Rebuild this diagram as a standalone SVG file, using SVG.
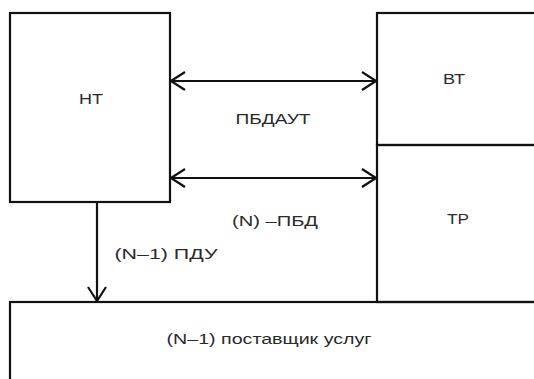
<svg xmlns="http://www.w3.org/2000/svg" width="534" height="379" viewBox="0 0 534 379">
<defs>
<style>
.box{fill:none;stroke:#111;stroke-width:2.2}
.ln{fill:none;stroke:#111;stroke-width:2.2}
.t{font-family:"Liberation Sans",Arial,sans-serif;font-size:14px;fill:#2a2a2a;text-anchor:middle}
</style>
<marker id="ah" viewBox="0 0 16 20" refX="15" refY="10" markerWidth="16" markerHeight="20" markerUnits="userSpaceOnUse" orient="auto-start-reverse">
<path d="M1,1 L15,10 L1,19" fill="none" stroke="#111" stroke-width="2.2"/>
</marker>
</defs>
<rect width="534" height="379" fill="#fff"/>
<g id="node-nt">
<rect class="box" x="10" y="13" width="160" height="189"/>
<text class="t" x="91" y="104" textLength="24" lengthAdjust="spacingAndGlyphs">НТ</text>
</g>
<g id="node-vt">
<rect class="box" x="377" y="13" width="170" height="132"/>
<text class="t" x="454" y="84" textLength="22" lengthAdjust="spacingAndGlyphs">ВТ</text>
</g>
<g id="node-tr">
<rect class="box" x="377" y="145" width="170" height="157"/>
<text class="t" x="458" y="224" textLength="22" lengthAdjust="spacingAndGlyphs">ТР</text>
</g>
<g id="node-provider">
<rect class="box" x="10" y="302" width="540" height="90"/>
<text class="t" x="269" y="344" textLength="205" lengthAdjust="spacingAndGlyphs">(N–1)  поставщик услуг</text>
</g>
<g id="connectors">
<line class="ln" x1="171" y1="81" x2="376" y2="81" marker-start="url(#ah)" marker-end="url(#ah)"/>
<line class="ln" x1="171" y1="178" x2="376" y2="178" marker-start="url(#ah)" marker-end="url(#ah)"/>
<line class="ln" x1="97" y1="202" x2="97" y2="301" marker-end="url(#ah)"/>
<text class="t" x="273" y="124" textLength="75" lengthAdjust="spacingAndGlyphs">ПБДАУТ</text>
<text class="t" x="275" y="226" textLength="86" lengthAdjust="spacingAndGlyphs">(N) –ПБД</text>
<text class="t" x="166" y="259" textLength="103" lengthAdjust="spacingAndGlyphs">(N–1)  ПДУ</text>
</g>
</svg>
